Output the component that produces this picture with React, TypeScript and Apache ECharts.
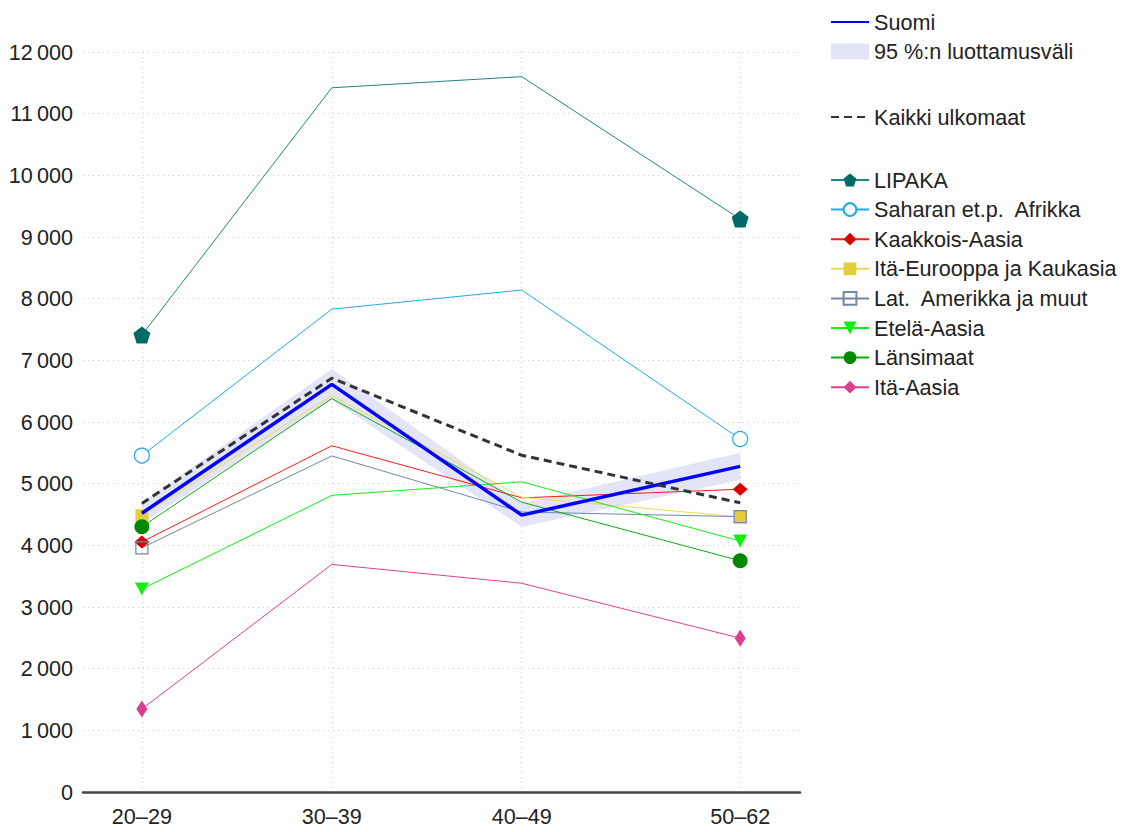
import React, { useEffect, useRef } from 'react';
import * as echarts from 'echarts';

const ageGroups = ['20–29', '30–39', '40–49', '50–62'];
const ageMidpoints = [24.5, 34.5, 44.5, 56];

const suomi = [4520, 6610, 4490, 5280];
const ciLow = [4350, 6360, 4300, 5060];
const ciHigh = [4690, 6860, 4680, 5500];
const kaikkiUlkomaat = [4680, 6710, 5460, 4690];
const lipaka = [7410, 11420, 11600, 9290];
const saharan = [5455, 7830, 8140, 5725];
const kaakkoisAasia = [4055, 5615, 4770, 4910];
const itaEurooppa = [4480, 6430, 4780, 4460];
const latAmerikka = [3960, 5450, 4540, 4465];
const etelaAasia = [3290, 4810, 5030, 4070];
const lansimaat = [4300, 6380, 4700, 3750];
const itaAasia = [1345, 3690, 3385, 2495];

const FONT = '"Liberation Sans", Arial, Helvetica, sans-serif';
const TEXT = '#222';
const FS = 21.6;

function fmtY(v: number): string {
  if (v < 1000) return String(v);
  const th = Math.floor(v / 1000);
  const rest = String(v % 1000).padStart(3, '0');
  return th + '\u2009' + rest;
}

function pts(vals: number[]) {
  return ageMidpoints.map((x, i) => [x, vals[i]]);
}

function endSize(size: number | number[]) {
  return (_v: any, p: any) => (p.dataIndex === 0 || p.dataIndex === ageMidpoints.length - 1 ? size : 0);
}

const PENTAGON = 'path://M0,-1 L0.951,-0.309 L0.588,0.809 L-0.588,0.809 L-0.951,-0.309 Z';
const TRI_DOWN = 'path://M-1,-0.8 L1,-0.8 L0,1 Z';

const N_SAHARAN = 'Saharan et.p.\u2002Afrikka';
const N_LATAM = 'Lat.\u2002Amerikka ja muut';

export default function App() {
  const ref = useRef<HTMLDivElement>(null);
  useEffect(() => {
    if (!ref.current) return;
    const chart = echarts.init(ref.current, null, { renderer: 'svg' });

    const regional = (
      name: string,
      vals: number[],
      lineColor: string,
      symbol: string,
      markColor: string,
      size: number | number[],
      border?: string
    ) => ({
      type: 'line',
      name,
      data: pts(vals),
      symbol,
      symbolSize: endSize(size),
      showAllSymbol: true,
      lineStyle: { color: lineColor, width: 1 },
      itemStyle: border
        ? { color: markColor, borderColor: border, borderWidth: 1.2 }
        : { color: markColor, borderWidth: 0 },
      color: lineColor,
      z: 3,
    });

    const legendBase = {
      left: 825,
      orient: 'vertical',
      itemWidth: 38,
      itemHeight: 16,
      itemGap: 7.6,
      textStyle: { color: TEXT, fontSize: FS, fontFamily: FONT },
      selectedMode: false,
    };

    const option: any = {
      animation: false,
      textStyle: { fontFamily: FONT },
      grid: { left: 83, right: 330, top: 52, bottom: 40, containLabel: false },
      xAxis: {
        type: 'value',
        min: 21.4,
        max: 59.15,
        axisLine: { show: true, onZero: false, lineStyle: { color: '#444', width: 2.5 } },
        axisTick: { show: false, customValues: ageMidpoints },
        axisLabel: {
          customValues: ageMidpoints,
          formatter: (v: number) => {
            const i = ageMidpoints.findIndex((m) => Math.abs(m - v) < 0.01);
            return i >= 0 ? ageGroups[i] : '';
          },
          color: TEXT,
          fontSize: FS,
          fontFamily: FONT,
          margin: 13,
        },
        splitLine: { show: true, lineStyle: { color: '#d0d0d0', type: [1, 4], width: 1 } },
      },
      yAxis: {
        type: 'value',
        min: 0,
        max: 12000,
        interval: 1000,
        axisLine: { show: false },
        axisTick: { show: false },
        axisLabel: { formatter: fmtY, color: TEXT, fontSize: FS, fontFamily: FONT, margin: 10 },
        splitLine: { show: true, lineStyle: { color: '#d0d0d0', type: [1, 4], width: 1 } },
      },
      legend: [
        {
          ...legendBase,
          top: 6,
          data: [
            { name: 'Suomi', itemStyle: { opacity: 0 } },
            { name: '95 %:n luottamusväli', icon: 'rect', itemStyle: { color: '#e4e4f9' } },
          ],
        },
        {
          ...legendBase,
          top: 101,
          data: [{ name: 'Kaikki ulkomaat', itemStyle: { opacity: 0 } }],
        },
        {
          ...legendBase,
          top: 164,
          data: [
            'LIPAKA',
            N_SAHARAN,
            'Kaakkois-Aasia',
            'Itä-Eurooppa ja Kaukasia',
            N_LATAM,
            'Etelä-Aasia',
            'Länsimaat',
            'Itä-Aasia',
          ],
        },
      ],
      series: [
        {
          type: 'custom',
          name: '95 %:n luottamusväli',
          data: ageMidpoints.map((x, i) => [x, ciLow[i], ciHigh[i]]),
          encode: { x: 0, y: [1, 2] },
          itemStyle: { color: '#e4e4f9' },
          z: 1,
          silent: true,
          renderItem: (params: any, api: any) => {
            if (params.dataIndex !== 0) return { type: 'group', children: [] };
            const poly: number[][] = [];
            for (let i = 0; i < ageMidpoints.length; i++) poly.push(api.coord([ageMidpoints[i], ciHigh[i]]));
            for (let i = ageMidpoints.length - 1; i >= 0; i--) poly.push(api.coord([ageMidpoints[i], ciLow[i]]));
            return { type: 'polygon', shape: { points: poly }, style: { fill: '#e4e4f9' } };
          },
        },
        regional('LIPAKA', lipaka, '#1f8585', PENTAGON, '#006b66', 17),
        regional(N_SAHARAN, saharan, '#1eaae6', 'circle', '#ffffff', 15, '#1eaae6'),
        regional('Kaakkois-Aasia', kaakkoisAasia, '#ff1a1a', 'diamond', '#d90000', [15, 13]),
        regional('Itä-Eurooppa ja Kaukasia', itaEurooppa, '#eedc50', 'rect', '#e3cf3a', 13),
        regional(N_LATAM, latAmerikka, '#7088a8', 'rect', 'rgba(255,255,255,0)', 12, '#6f88a6'),
        regional('Etelä-Aasia', etelaAasia, '#11ee11', TRI_DOWN, '#11ee11', [14, 13]),
        regional('Länsimaat', lansimaat, '#11aa11', 'circle', '#008800', 15),
        regional('Itä-Aasia', itaAasia, '#e0408a', 'diamond', '#dd3d8d', [11, 17]),
        {
          type: 'line',
          name: 'Suomi',
          data: pts(suomi),
          symbol: 'none',
          lineStyle: { color: '#0000ff', width: 3.5 },
          itemStyle: { color: '#0000ff' },
          color: '#0000ff',
          z: 4,
        },
        {
          type: 'line',
          name: 'Kaikki ulkomaat',
          data: pts(kaikkiUlkomaat),
          symbol: 'none',
          lineStyle: { color: '#333333', width: 3, type: [8, 5] },
          itemStyle: { color: '#333333' },
          color: '#333333',
          z: 4,
        },
      ],
    };
    chart.setOption(option);
    return () => chart.dispose();
  }, []);
  return <div ref={ref} style={{ position: 'fixed', left: 0, top: 0, width: 1130, height: 832, background: '#fff' }} />;
}
